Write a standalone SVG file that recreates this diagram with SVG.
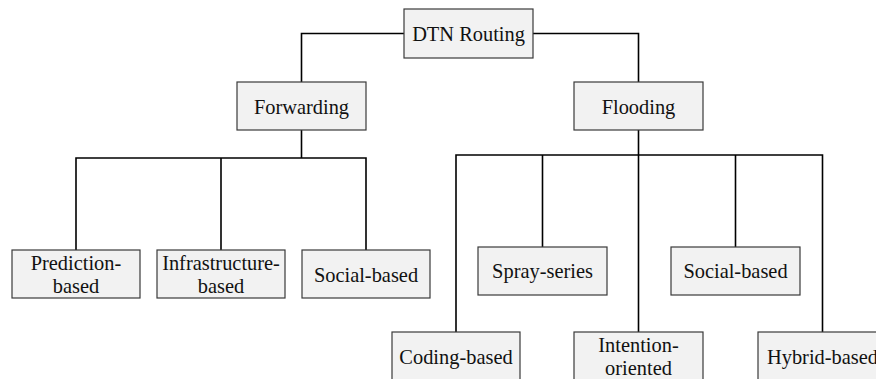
<svg xmlns="http://www.w3.org/2000/svg" width="876" height="379" viewBox="0 0 876 379">
  <style>
    .box { fill: #f2f2f2; stroke: #3a3a3a; stroke-width: 1.2; }
    .lbl { font-family: "Liberation Serif", "Times New Roman", serif; font-size: 20.4px; fill: #111; text-anchor: middle; }
    .wire { fill: none; stroke: #000; stroke-width: 1.6; }
  </style>
  <rect width="876" height="379" fill="#ffffff"/>

  <!-- tree connectors -->
  <g id="connectors">
    <path class="wire" d="M404,33.5 H301.5 V82"/>
    <path class="wire" d="M533,33.5 H638.5 V82"/>
    <path class="wire" d="M301.5,130 V158 M76,250 V158 H366 V250 M221,158 V250"/>
    <path class="wire" d="M638.5,130 V332 M456,332 V155 H822.5 V332 M542.5,155 V247 M735.5,155 V247"/>
  </g>

  <g id="dtn-routing">
    <rect class="box" x="404" y="9" width="129" height="49"/>
    <text class="lbl" x="468.5" y="40.5">DTN Routing</text>
  </g>
  <g id="forwarding">
    <rect class="box" x="237" y="82" width="129" height="48"/>
    <text class="lbl" x="301.5" y="113.5">Forwarding</text>
  </g>
  <g id="flooding">
    <rect class="box" x="574" y="82" width="129" height="48"/>
    <text class="lbl" x="638.5" y="113.5">Flooding</text>
  </g>

  <g id="prediction-based">
    <rect class="box" x="12" y="250" width="128" height="48"/>
    <text class="lbl" x="76" y="269.5">Prediction-</text>
    <text class="lbl" x="76" y="292.5">based</text>
  </g>
  <g id="infrastructure-based">
    <rect class="box" x="157" y="250" width="128" height="48"/>
    <text class="lbl" x="221" y="269.5">Infrastructure-</text>
    <text class="lbl" x="221" y="292.5">based</text>
  </g>
  <g id="social-based-fwd">
    <rect class="box" x="302" y="250" width="128" height="48"/>
    <text class="lbl" x="366" y="281.5">Social-based</text>
  </g>

  <g id="spray-series">
    <rect class="box" x="478" y="247" width="129" height="48"/>
    <text class="lbl" x="542.5" y="277.5">Spray-series</text>
  </g>
  <g id="social-based-flood">
    <rect class="box" x="671" y="247" width="129" height="48"/>
    <text class="lbl" x="735.5" y="277.5">Social-based</text>
  </g>
  <g id="coding-based">
    <rect class="box" x="392" y="332" width="128" height="50"/>
    <text class="lbl" x="456" y="363.5">Coding-based</text>
  </g>
  <g id="intention-oriented">
    <rect class="box" x="574" y="332" width="129" height="50"/>
    <text class="lbl" x="638.5" y="352">Intention-</text>
    <text class="lbl" x="638.5" y="374.5">oriented</text>
  </g>
  <g id="hybrid-based">
    <rect class="box" x="758" y="332" width="129" height="50"/>
    <text class="lbl" x="822.5" y="363.5">Hybrid-based</text>
  </g>
</svg>
